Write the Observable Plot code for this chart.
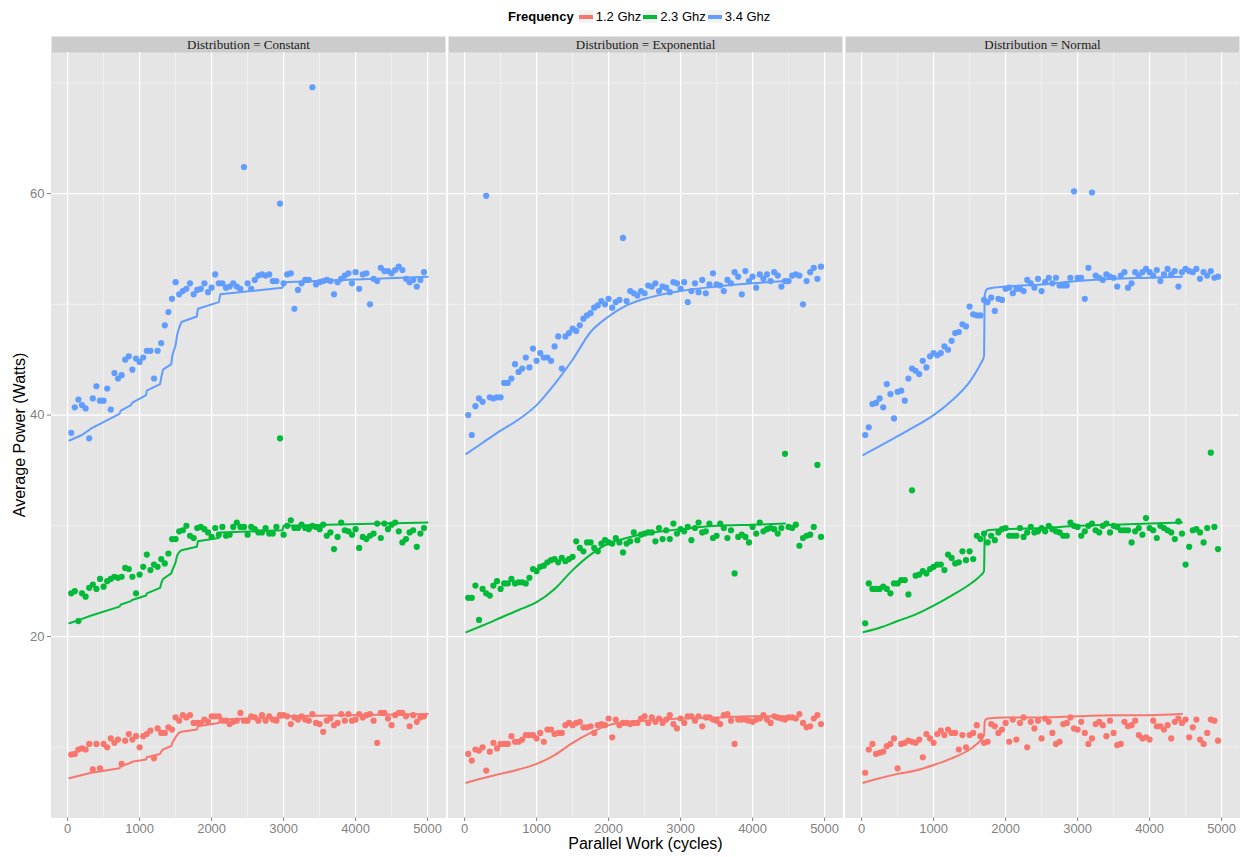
<!DOCTYPE html>
<html><head><meta charset="utf-8">
<script src="https://cdn.jsdelivr.net/npm/d3@7"></script>
<script src="https://cdn.jsdelivr.net/npm/@observablehq/plot@0.6"></script>
<style>
html,body{margin:0;padding:0;background:#fff;}
body{width:1249px;height:857px;overflow:hidden;font-family:"Liberation Sans",Arial,sans-serif;}
#legend{height:32px;display:flex;align-items:center;padding-left:508px;padding-top:1px;box-sizing:border-box;font-size:13px;color:#000;}
#legend .title{font-weight:bold;margin-right:5px;}
#legend .key{width:14px;height:13px;background:#F2F2F2;display:flex;align-items:center;margin-right:3px;}
#legend .key span{display:block;width:14px;height:4px;}
#legend .lab{margin-right:2px;}
#chart svg{display:block;}
g[aria-label="x-axis label"], g[aria-label="y-axis label"]{font-size:16px;fill:#000;}
</style></head><body>
<div id="legend"></div>
<div id="chart"></div>
<script>
// ---------- data ----------
const distributions = ["Constant", "Exponential", "Normal"];
const frequencies = ["1.2 Ghz", "2.3 Ghz", "3.4 Ghz"];
const colors = ["#F8766D", "#00BA38", "#619CFF"];
const xTicks = [0, 1000, 2000, 3000, 4000, 5000];
const xMinorTicks = [500, 1500, 2500, 3500, 4500];
const yTicks = [20, 40, 60];
const yMinorTicks = [10, 30, 50, 70];

const cycles = [50,100,150,200,250,300,350,400,450,500,550,600,650,700,750,800,850,900,950,1000,
1050,1100,1150,1200,1250,1300,1350,1400,1450,1500,1550,1600,1650,1700,1750,1800,1850,1900,1950,2000,
2050,2100,2150,2200,2250,2300,2350,2400,2450,2500,2550,2600,2650,2700,2750,2800,2850,2900,2950,3000,
3050,3100,3150,3200,3250,3300,3350,3400,3450,3500,3550,3600,3650,3700,3750,3800,3850,3900,3950,4000,
4050,4100,4150,4200,4250,4300,4350,4400,4450,4500,4550,4600,4650,4700,4750,4800,4850,4900,4950];

// measured average power (points)
const constant_12 = [9.35,9.4,9.8,9.9,9.8,10.3,8.0,10.3,8.1,10.3,
10.0,10.8,10.4,10.7,8.5,10.6,11.2,10.7,11.0,10.0,
11.0,11.2,11.5,9.0,11.7,11.3,11.3,11.8,11.6,12.7,
12.4,12.9,12.7,12.9,12.2,12.2,12.2,12.5,12.3,12.8,
12.8,12.8,12.4,12.4,12.1,12.3,12.4,13.1,12.4,12.4,
12.8,12.7,12.4,12.9,12.4,12.8,12.5,12.4,12.9,12.9,
12.8,12.1,12.7,12.5,12.8,12.5,12.4,13.0,12.2,12.1,
11.4,12.4,12.6,12.0,12.2,13.0,12.4,13.0,12.4,12.5,
13.0,12.7,12.9,13.0,12.4,10.4,13.1,13.1,12.6,12.0,
12.9,13.1,13.1,12.8,11.9,12.9,12.3,12.7,12.8];
const constant_23 = [23.9,24.1,21.4,23.9,23.6,24.4,24.7,24.3,25.2,24.5,
25.0,25.2,25.4,25.3,25.4,26.2,26.1,25.4,23.9,25.6,
26.3,27.4,26.0,26.5,26.3,27.0,26.6,27.5,28.8,28.8,
29.5,29.6,30.0,29.1,28.9,29.8,29.9,29.7,29.4,29.0,
29.8,29.2,29.9,29.1,29.2,29.9,30.3,29.9,29.9,29.2,
29.9,29.7,29.4,29.4,29.8,29.3,29.3,29.9,37.9,29.2,
30.0,30.5,29.8,29.8,30.1,29.8,29.7,30.0,29.9,29.7,
30.1,29.1,29.4,27.9,29.0,30.3,29.6,29.5,29.2,29.7,
28.0,29.0,28.8,29.1,29.3,30.2,28.9,30.2,29.7,30.1,
30.3,29.5,28.5,28.8,29.4,29.6,28.1,29.3,29.8];
const constant_34 = [38.4,40.7,41.4,40.9,40.6,37.9,41.5,42.6,41.3,41.3,
42.4,40.5,43.8,43.3,43.6,45.0,45.3,44.1,45.1,44.8,
45.2,45.8,45.8,43.3,45.8,46.5,48.1,49.3,50.5,52.0,
50.9,51.2,51.4,51.9,50.9,51.3,51.4,51.9,51.1,51.5,
52.7,51.9,51.9,51.5,51.6,51.9,51.6,51.4,62.4,51.9,
51.4,52.2,52.6,52.7,52.6,52.7,52.1,52.1,59.1,51.9,
52.7,52.8,49.6,51.3,51.9,52.2,52.2,69.6,51.8,52.0,
52.1,52.2,52.1,50.9,52.0,52.3,52.6,52.8,51.9,52.9,
51.4,52.7,52.8,50.0,52.3,52.1,53.3,53.0,53.0,52.8,
53.1,53.4,53.1,52.3,52.0,52.2,51.6,52.2,52.9];
const exponential_12 = [9.4,8.8,9.8,9.7,10.0,7.9,9.6,10.4,9.9,10.3,
10.3,10.3,11.0,10.5,10.5,10.7,11.1,11.1,11.1,10.8,
11.3,10.5,11.6,11.6,11.2,11.3,11.3,12.0,12.2,12.0,
12.2,12.3,11.8,11.8,11.9,11.3,12.0,12.1,12.0,12.6,
10.9,12.5,12.0,12.2,12.2,12.1,12.2,12.2,12.6,12.8,
12.2,12.7,12.3,12.6,12.2,12.5,12.9,12.1,11.7,12.6,
12.2,12.8,12.8,12.4,12.8,11.9,12.7,12.7,12.5,12.4,
12.1,12.9,13.0,12.4,10.3,12.5,12.5,12.5,12.4,12.3,
12.5,12.6,12.9,12.5,12.2,12.8,12.7,12.6,12.5,12.7,
12.7,12.6,13.0,12.2,11.8,11.9,12.6,12.9,12.1];
const exponential_23 = [23.5,23.5,24.6,21.5,24.3,23.9,23.7,24.6,25.0,24.3,
24.8,24.8,25.2,24.8,24.9,24.9,24.8,25.3,26.1,25.9,
26.3,26.4,26.7,26.9,27.0,26.7,27.1,26.8,27.0,27.2,
28.6,28.0,27.7,28.5,28.5,28.0,27.7,28.4,28.7,28.5,
28.4,28.9,28.5,27.6,28.4,28.6,29.4,28.7,29.2,29.3,
29.4,29.4,28.6,29.8,28.8,29.6,28.8,30.2,29.3,29.7,
29.5,29.9,28.7,29.8,30.3,29.4,29.5,30.2,28.9,29.1,
30.2,29.8,28.9,29.6,25.7,29.0,29.2,29.0,28.5,29.9,
29.3,30.3,29.5,29.7,29.8,29.7,29.3,29.8,36.5,29.9,
29.8,30.1,28.2,28.9,29.1,29.2,29.9,35.5,29.0];
const exponential_34 = [40.0,38.2,40.8,41.5,41.2,59.8,41.6,41.5,41.6,41.6,
42.9,42.9,43.3,44.6,43.9,44.2,45.2,44.3,46.0,44.9,
45.6,45.2,45.2,44.9,46.2,47.1,44.2,47.1,47.4,47.8,
47.6,48.1,48.7,49.0,49.2,49.7,49.9,50.3,50.0,50.5,
49.7,50.2,50.4,56.0,50.3,51.2,51.0,50.8,51.2,51.0,
51.7,51.6,51.9,51.2,51.6,51.5,51.1,52.0,51.9,51.4,
52.0,50.2,51.2,51.9,51.1,52.2,51.0,51.8,52.8,51.8,
51.7,51.2,52.2,51.9,52.9,52.5,50.9,53.0,52.1,52.5,
51.5,52.7,52.3,52.7,52.1,52.9,52.6,51.6,52.1,52.1,
52.6,52.7,52.6,50.0,52.1,52.9,53.3,52.3,53.4];
const normal_12 = [7.7,9.8,10.3,9.4,9.5,9.6,10.1,10.3,10.8,8.1,
10.3,10.4,10.6,10.5,10.4,10.7,9.1,11.2,10.8,10.4,
11.2,11.5,11.1,11.6,11.3,11.3,9.8,11.1,10.0,11.1,
11.3,12.0,11.0,10.4,10.5,12.1,11.9,11.3,11.6,12.2,
10.5,12.5,10.7,12.2,12.7,10.0,12.3,11.7,12.4,10.8,
12.6,12.3,11.3,10.3,10.5,12.1,12.2,12.7,11.7,11.6,
12.3,11.3,10.3,10.8,12.1,12.3,12.0,11.0,12.4,11.3,
10.2,10.3,12.3,11.9,12.0,12.4,11.1,10.8,10.9,10.7,
12.4,11.9,11.9,11.6,12.0,10.8,12.3,12.6,12.2,12.5,
10.9,11.8,12.5,10.7,10.3,11.3,12.5,12.4,10.6];
const normal_23 = [21.2,24.8,24.3,24.3,24.3,24.5,24.3,23.9,24.8,24.8,
25.1,25.1,23.8,33.2,25.5,25.6,25.9,25.7,26.1,26.3,
26.5,26.5,26.0,27.4,27.1,26.6,26.7,27.7,26.9,27.7,
27.0,29.1,28.8,29.3,28.5,29.1,28.7,29.4,29.7,29.8,
29.1,29.1,29.1,29.8,29.0,29.4,29.9,29.4,29.5,29.8,
29.5,30.0,29.7,29.5,29.4,29.1,29.1,30.3,30.0,29.9,
29.1,29.5,30.0,30.2,29.6,29.4,30.0,30.2,29.4,30.0,
29.9,29.6,29.6,29.6,28.5,29.5,29.8,29.2,30.7,29.8,
29.6,28.9,30.0,29.8,29.6,29.4,28.8,30.4,29.3,26.5,
28.1,29.6,29.7,29.4,28.5,29.8,36.6,29.9,27.9];
const normal_34 = [38.2,38.9,41.0,41.1,41.5,40.7,42.8,41.9,39.7,42.1,
42.2,41.3,43.3,44.2,44.0,43.7,44.9,44.3,45.3,45.6,
45.4,45.6,46.2,45.9,46.7,47.4,47.5,48.2,48.0,49.8,
49.1,49.0,49.0,50.4,50.2,50.6,49.4,50.5,50.4,51.4,
51.5,51.0,51.4,51.4,51.2,52.2,51.9,51.5,52.3,51.2,
52.0,52.4,51.9,52.4,51.7,51.7,51.7,52.4,60.2,52.4,
52.4,50.5,53.3,60.1,52.6,52.4,52.2,52.7,52.5,52.4,
51.6,52.6,52.9,51.5,51.9,52.9,52.6,52.9,53.2,52.9,
52.6,53.1,52.1,52.7,53.2,52.7,53.0,51.6,52.9,53.2,
53.0,52.9,53.2,52.3,52.9,52.6,53.0,52.4,52.5];

// model curves (lines)
const modelX_constant = [25,200,330,720,740,880,895,1090,1100,1285,1300,1325,1440,1455,1500,1520,1545,1580,1795,1810,2100,2120,2985,3000,5000];
const model_constant_12 = [7.2,7.5,7.7,8.1,8.3,8.6,8.7,8.9,9.1,9.4,9.6,9.8,10.1,10.4,10.9,11.1,11.3,11.4,11.6,11.9,12.2,12.5,12.7,12.8,13.0];
const model_constant_23 = [21.2,21.6,21.9,22.7,22.9,23.2,23.3,23.7,23.9,24.4,24.8,25.2,25.7,26.0,26.7,27.3,27.6,27.8,28.1,28.6,28.9,29.4,29.6,30.0,30.3];
const model_constant_34 = [37.7,38.2,38.8,40.1,40.4,40.9,41.1,41.8,42.2,42.8,43.4,44.1,44.6,45.4,46.3,47.2,47.8,48.4,48.9,49.6,50.2,50.9,51.5,52.0,52.5];
const modelX_exponential = [25,250,500,750,1000,1250,1500,1750,2000,2250,2500,2750,3000,3500,4000,4450];
const model_exponential_12 = [6.8,7.2,7.6,8.0,8.5,9.3,10.4,11.3,12.0,12.3,12.4,12.5,12.6,12.7,12.8,12.8];
const model_exponential_23 = [20.4,21.0,21.7,22.4,23.1,24.3,26.0,27.4,28.4,28.9,29.3,29.5,29.7,30.0,30.1,30.2];
const model_exponential_34 = [36.5,37.5,38.6,39.6,40.9,42.8,45.0,47.5,48.9,49.9,50.5,50.9,51.2,51.6,51.9,52.1];
const modelX_normal = [25,250,500,750,1000,1250,1500,1600,1650,1700,1710,1725,1750,2000,2500,3000,3500,4000,4450];
const model_normal_12 = [6.8,7.2,7.6,7.9,8.4,9.0,9.8,10.3,10.6,11.1,12.3,12.5,12.6,12.7,12.7,12.8,12.9,12.9,13.0];
const model_normal_23 = [20.4,20.8,21.4,22.0,22.8,23.7,24.7,25.2,25.5,25.9,29.1,29.4,29.6,29.7,29.8,30.0,30.1,30.2,30.3];
const model_normal_34 = [36.4,37.2,38.1,39.0,40.0,41.3,43.0,44.0,44.6,45.3,50.8,51.2,51.4,51.6,51.8,52.1,52.3,52.4,52.5];

// ---------- tables ----------
const pointSeries = [
  ["Constant", "1.2 Ghz", constant_12], ["Constant", "2.3 Ghz", constant_23], ["Constant", "3.4 Ghz", constant_34],
  ["Exponential", "1.2 Ghz", exponential_12], ["Exponential", "2.3 Ghz", exponential_23], ["Exponential", "3.4 Ghz", exponential_34],
  ["Normal", "1.2 Ghz", normal_12], ["Normal", "2.3 Ghz", normal_23], ["Normal", "3.4 Ghz", normal_34]
];
const lineSeries = [
  ["Constant", "1.2 Ghz", modelX_constant, model_constant_12], ["Constant", "2.3 Ghz", modelX_constant, model_constant_23], ["Constant", "3.4 Ghz", modelX_constant, model_constant_34],
  ["Exponential", "1.2 Ghz", modelX_exponential, model_exponential_12], ["Exponential", "2.3 Ghz", modelX_exponential, model_exponential_23], ["Exponential", "3.4 Ghz", modelX_exponential, model_exponential_34],
  ["Normal", "1.2 Ghz", modelX_normal, model_normal_12], ["Normal", "2.3 Ghz", modelX_normal, model_normal_23], ["Normal", "3.4 Ghz", modelX_normal, model_normal_34]
];
const points = pointSeries.flatMap(([dist, freq, vals]) => vals.map((y, i) => ({dist, freq, x: cycles[i], y})));
const lines = lineSeries.flatMap(([dist, freq, xs, vals]) => vals.map((y, i) => ({dist, freq, x: xs[i], y})));
const stepLines = lines.filter(d => d.dist === "Constant");
const smoothLines = lines.filter(d => d.dist !== "Constant");

// ggplot-like 5% expansion
function expand([a, b]) { const r = b - a; return [a - 0.05 * r, b + 0.05 * r]; }
const all = points.concat(lines);
const xDomain = expand(d3.extent(all, d => d.x));
const yDomain = expand(d3.extent(all, d => d.y));

// ---------- legend ----------
const legend = document.getElementById("legend");
legend.innerHTML = `<span class="title">Frequency</span>` + frequencies.map((f, i) =>
  `<span class="key"><span style="background:${colors[i]}"></span></span><span class="lab">${f}</span>`).join("");

// ---------- chart ----------
const chart = Plot.plot({
  width: 1249,
  height: 825,
  marginTop: 20,
  marginBottom: 40,
  marginLeft: 50,
  marginRight: 8,
  style: {fontFamily: "'Liberation Sans', Arial, sans-serif", fontSize: "13px", color: "#7F7F7F", background: "#fff"},
  fx: {domain: distributions, paddingInner: 0.0075, paddingOuter: 0, axis: null, label: null},
  x: {domain: xDomain, ticks: xTicks, tickSize: 4, tickPadding: 2, tickFormat: d => String(d),
      label: "Parallel Work (cycles)", labelArrow: "none", labelAnchor: "center", labelOffset: 31},
  y: {domain: yDomain, ticks: yTicks, tickSize: 4, tickPadding: 3, tickFormat: d => String(d),
      label: "Average Power (Watts)", labelArrow: "none", labelAnchor: "center", labelOffset: 38},
  color: {domain: frequencies, range: colors},
  marks: [
    Plot.frame({fill: "#CCCCCC", stroke: null, insetTop: -16}),
    Plot.frame({fill: "#E5E5E5", stroke: null}),
    Plot.ruleX(xMinorTicks, {stroke: "#F2F2F2", strokeWidth: 0.8}),
    Plot.ruleY(yMinorTicks, {stroke: "#F2F2F2", strokeWidth: 0.8}),
    Plot.ruleX(xTicks, {stroke: "#FFFFFF", strokeWidth: 1.3}),
    Plot.ruleY(yTicks, {stroke: "#FFFFFF", strokeWidth: 1.3}),
    Plot.text(distributions, {fx: d => d, text: d => `Distribution = ${d}`, frameAnchor: "top", lineAnchor: "middle", dy: -8,
      fontFamily: "'Liberation Serif', 'Times New Roman', serif", fontSize: 13, fill: "#1A1A1A"}),
    Plot.dot(points, {fx: "dist", x: "x", y: "y", fill: "freq", r: 3.1, stroke: null}),
    Plot.line(stepLines, {fx: "dist", x: "x", y: "y", stroke: "freq", z: "freq", strokeWidth: 2}),
    Plot.line(smoothLines, {fx: "dist", x: "x", y: "y", stroke: "freq", z: "freq", strokeWidth: 2, curve: "monotone-x"})
  ]
});
document.getElementById("chart").appendChild(chart);
</script>
</body></html>
